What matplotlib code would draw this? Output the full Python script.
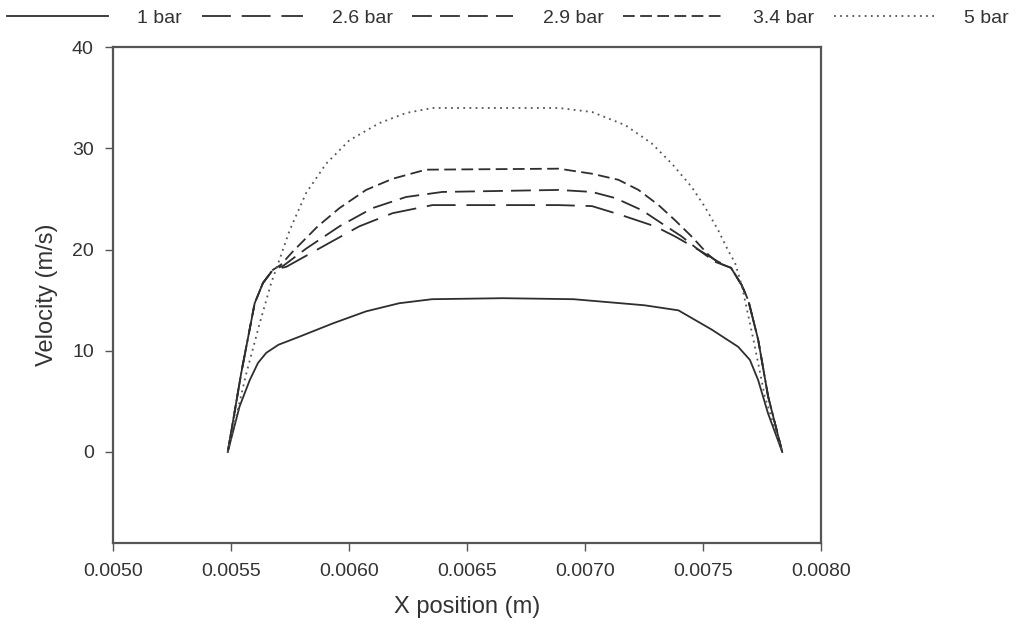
import matplotlib
matplotlib.use("Agg")
import matplotlib.pyplot as plt
from matplotlib.ticker import FormatStrFormatter

plt.rcParams['font.family'] = ['Liberation Sans', 'DejaVu Sans']

# Velocity profiles (x in m, velocity in m/s)
x_1bar = [0.005485, 0.005535, 0.005578, 0.005613, 0.005648, 0.005700, 0.005789,
          0.005929, 0.006071, 0.006211, 0.006350, 0.006650, 0.006950, 0.007100,
          0.007250, 0.007394, 0.007535, 0.007647, 0.007697, 0.007732, 0.007774,
          0.007834]
v_1bar = [0.0, 4.5, 7.1, 8.8, 9.8, 10.6, 11.4, 12.7, 13.9, 14.7, 15.1, 15.2, 15.1,
          14.8, 14.5, 14.0, 12.1, 10.4, 9.1, 7.1, 3.8, 0.0]

x_26bar = [0.005485, 0.005542, 0.005599, 0.005634, 0.005676, 0.005733, 0.005887,
           0.006042, 0.006183, 0.006352, 0.006887, 0.007028, 0.007154, 0.007295,
           0.007380, 0.007478, 0.007563, 0.007617, 0.007662, 0.007690, 0.007732,
           0.007774, 0.007834]
v_26bar = [0.0, 7.8, 14.7, 16.7, 18.0, 18.3, 20.3, 22.3, 23.6, 24.4, 24.4, 24.3,
           23.4, 22.3, 21.3, 20.0, 18.8, 18.2, 16.5, 15.0, 11.1, 5.5, 0.0]

x_29bar = [0.005485, 0.005542, 0.005599, 0.005634, 0.005676, 0.005720, 0.005817,
           0.005958, 0.006098, 0.006240, 0.006394, 0.006887, 0.007028, 0.007126,
           0.007239, 0.007323, 0.007408, 0.007478, 0.007549, 0.007617, 0.007662,
           0.007690, 0.007732, 0.007774, 0.007834]
v_29bar = [0.0, 7.8, 14.7, 16.7, 18.0, 18.4, 20.1, 22.3, 24.1, 25.2, 25.7, 25.9,
           25.7, 25.1, 23.9, 22.6, 21.3, 20.0, 18.8, 18.2, 16.5, 15.0, 11.1, 5.5, 0.0]

x_34bar = [0.005485, 0.005542, 0.005599, 0.005634, 0.005676, 0.005710, 0.005760,
           0.005866, 0.005958, 0.006071, 0.006183, 0.006324, 0.006887, 0.007028,
           0.007140, 0.007225, 0.007310, 0.007380, 0.007450, 0.007521, 0.007563,
           0.007617, 0.007662, 0.007690, 0.007732, 0.007774, 0.007834]
v_34bar = [0.0, 7.8, 14.7, 16.7, 18.0, 18.5, 19.8, 22.3, 24.1, 25.9, 27.0, 27.9,
           28.0, 27.5, 26.9, 25.9, 24.4, 22.9, 21.3, 19.5, 18.7, 18.2, 16.5, 15.0,
           11.1, 5.5, 0.0]

x_5bar = [0.005485, 0.005564, 0.005620, 0.005669, 0.005704, 0.005747, 0.005817,
          0.005902, 0.006000, 0.006127, 0.006240, 0.006352, 0.006887, 0.007028,
          0.007169, 0.007281, 0.007366, 0.007450, 0.007507, 0.007563, 0.007605,
          0.007634, 0.007662, 0.007690, 0.007718, 0.007760, 0.007834]
v_5bar = [0.0, 7.8, 12.7, 16.7, 19.0, 21.9, 25.6, 28.5, 30.8, 32.5, 33.5, 34.0,
          34.0, 33.6, 32.3, 30.5, 28.5, 26.2, 24.2, 21.9, 19.9, 18.7, 16.5, 13.5,
          10.4, 5.5, 0.0]

labels = ["1 bar", "2.6 bar", "2.9 bar", "3.4 bar", "5 bar"]
styles = ["-", (0, (16, 6)), (0, (11, 4.5)), (0, (6.5, 3)), (0, (1, 2.4))]
colors = ["#2e2e2e", "#2e2e2e", "#2e2e2e", "#2e2e2e", "#555555"]

fig = plt.figure(figsize=(10.16, 6.3), dpi=100)
ax = fig.add_axes([0.1115, 0.138, 0.697, 0.787])

series = [(x_1bar, v_1bar), (x_26bar, v_26bar), (x_29bar, v_29bar),
          (x_34bar, v_34bar), (x_5bar, v_5bar)]
for (xs, vs), lab, ls, c in zip(series, labels, styles, colors):
    ax.plot(xs, vs, color=c, lw=1.3, linestyle=ls, label=lab)

ax.set_xlim(0.005, 0.008)
ax.set_ylim(-9, 40)
ax.set_xticks([0.0050, 0.0055, 0.0060, 0.0065, 0.0070, 0.0075, 0.0080])
ax.set_yticks([0, 10, 20, 30, 40])
ax.xaxis.set_major_formatter(FormatStrFormatter('%.4f'))
ax.tick_params(direction='out', length=6, width=1, colors="#555555",
               labelsize=14, labelcolor="#333333", pad=8)
for sp in ax.spines.values():
    sp.set_color("#555555")
    sp.set_linewidth(1.6)

ax.set_xlabel("X position (m)", fontsize=17, color="#333333", labelpad=12)
ax.set_ylabel("Velocity (m/s)", fontsize=17, color="#333333", labelpad=10)

fig.legend(loc="center", bbox_to_anchor=(0.5, 0.971), ncol=5, frameon=False,
           fontsize=14, handlelength=5.2, handletextpad=1.5, columnspacing=1.0,
           labelcolor="#333333")

fig.savefig("out.png", dpi=100)
